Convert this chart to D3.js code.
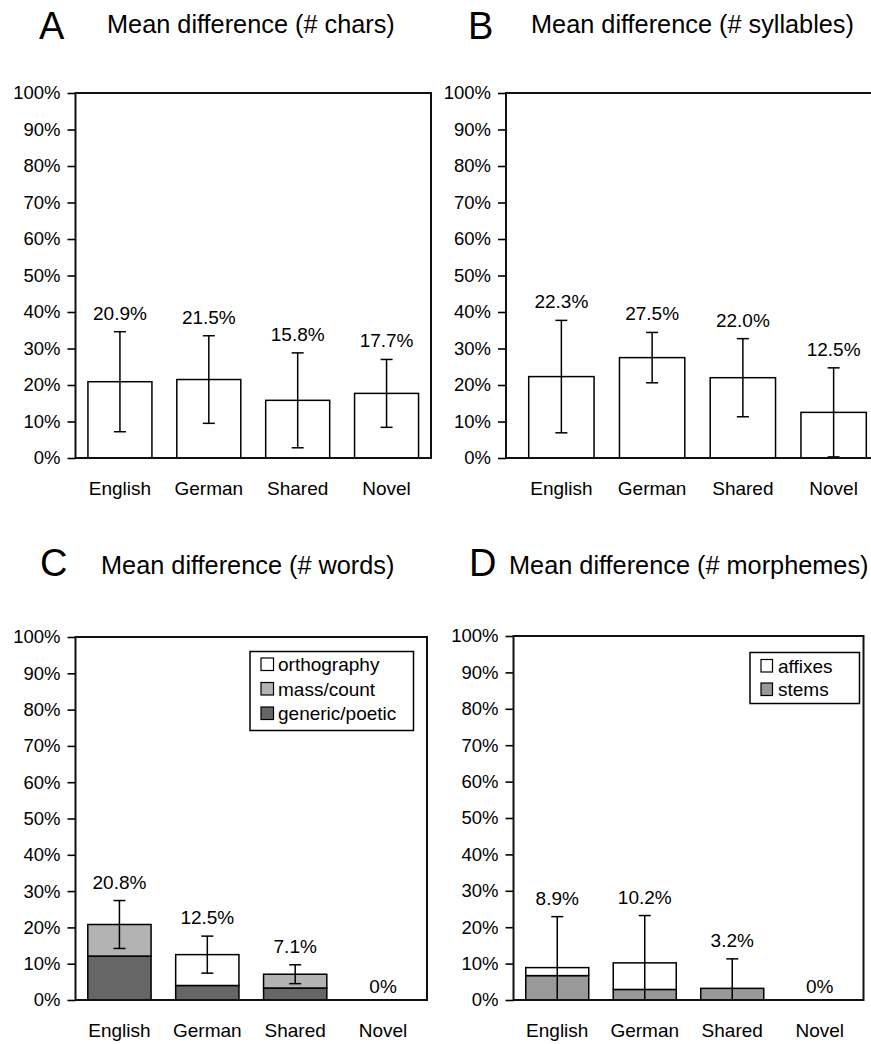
<!DOCTYPE html>
<html>
<head>
<meta charset="utf-8">
<script src="https://cdn.jsdelivr.net/npm/d3@7/dist/d3.min.js"></script>
<style>
  html, body { margin: 0; padding: 0; background: #fff; }
  svg { display: block; font-family: "Liberation Sans", Arial, sans-serif; }
</style>
</head>
<body>
<svg id="chart" width="871" height="1044"></svg>
<script>
// ---- data ----
const categories = ["English", "German", "Shared", "Novel"];
const yTicks = [0, 10, 20, 30, 40, 50, 60, 70, 80, 90, 100];

// A: mean difference in characters
const charsMean = [20.9, 21.5, 15.8, 17.7];
const charsErr  = [13.7, 12.0, 13.0, 9.3];

// B: mean difference in syllables
const syllMean = [22.3, 27.5, 22.0, 12.5];
const syllErr  = [15.4, 6.9, 10.7, 12.2];

// C: mean difference in words, split by source
const wordsGeneric = [12.1, 4.0, 3.3, 0];
const wordsMass    = [8.7, 0, 3.8, 0];
const wordsOrtho   = [0, 8.5, 0, 0];
const wordsErr     = [6.6, 5.1, 2.6, 0];
const wordsKeys    = ["generic/poetic", "mass/count", "orthography"];

// D: mean difference in morphemes, split by source
const morphStems   = [6.7, 2.9, 3.2, 0];
const morphAffixes = [2.2, 7.3, 0, 0];
const morphErr     = [14.0, 13.0, 8.1, 0];
const morphKeys    = ["stems", "affixes"];

const fills = {
  "plain": "#ffffff",
  "generic/poetic": "#666666",
  "mass/count": "#b3b3b3",
  "orthography": "#ffffff",
  "stems": "#999999",
  "affixes": "#ffffff"
};

const svg = d3.select("#chart");
const fmt = v => v === 0 ? "0%" : v.toFixed(1) + "%";

// panel frames
const panels = [
  { letter: "A", title: "Mean difference (# chars)",
    left: 75.5, right: 431, top: 93, bottom: 458, band: [75.5, 431],
    letterX: 39, letterY: 39, titleX: 107, titleY: 33 },
  { letter: "B", title: "Mean difference (# syllables)",
    left: 506, right: 890, top: 93, bottom: 458, band: [516, 879],
    letterX: 468, letterY: 39, titleX: 531, titleY: 33 },
  { letter: "C", title: "Mean difference (# words)",
    left: 75.5, right: 427, top: 637, bottom: 1000, band: [75.5, 427],
    letterX: 40, letterY: 576, titleX: 101, titleY: 574 },
  { letter: "D", title: "Mean difference (# morphemes)",
    left: 513.5, right: 863.5, top: 636, bottom: 1000, band: [513.5, 863.5],
    letterX: 469, letterY: 576, titleX: 509, titleY: 574 }
];

function buildRows(keys, cols) {
  return categories.map((c, i) => {
    const row = { cat: c };
    keys.forEach((k, j) => row[k] = cols[j][i]);
    return row;
  });
}

const specs = [
  { rows: buildRows(["plain"], [charsMean]), keys: ["plain"], err: charsErr },
  { rows: buildRows(["plain"], [syllMean]), keys: ["plain"], err: syllErr },
  { rows: buildRows(wordsKeys, [wordsGeneric, wordsMass, wordsOrtho]), keys: wordsKeys, err: wordsErr,
    legend: { x: 250, y: 651.5, w: 163.5, h: 79, items: ["orthography", "mass/count", "generic/poetic"],
              first: 671, step: 24.5, sw: 12.5, textX: 278 } },
  { rows: buildRows(morphKeys, [morphStems, morphAffixes]), keys: morphKeys, err: morphErr,
    legend: { x: 750, y: 652.5, w: 109.5, h: 51, items: ["affixes", "stems"],
              first: 672.5, step: 23.5, sw: 11.5, textX: 778 } }
];

panels.forEach((p, pi) => {
  const spec = specs[pi];
  const g = svg.append("g");

  const x = d3.scaleBand().domain(categories).range(p.band)
    .paddingInner(0.28).paddingOuter(0.14);
  const y = d3.scaleLinear().domain([0, 100]).range([p.bottom, p.top]);

  // titles
  g.append("text").attr("x", p.letterX).attr("y", p.letterY)
    .attr("font-size", 38).attr("fill", "#000").text(p.letter);
  g.append("text").attr("x", p.titleX).attr("y", p.titleY)
    .attr("font-size", 25.3).attr("fill", "#000").text(p.title);

  // y axis
  const ax = g.append("g").attr("transform", `translate(${p.left},0)`)
    .call(d3.axisLeft(y).tickValues(yTicks).tickFormat(d => d + "%")
      .tickSize(8).tickSizeOuter(0).tickPadding(7));
  ax.select(".domain").remove();
  ax.selectAll(".tick line").attr("stroke", "#000").attr("stroke-width", 1.6);
  ax.selectAll(".tick text").attr("font-size", 18.5).attr("fill", "#000")
    .attr("font-family", "Liberation Sans, Arial, sans-serif");

  // stacked bars
  const stack = d3.stack().keys(spec.keys)(spec.rows);
  stack.forEach(layer => {
    g.append("g").selectAll("rect")
      .data(layer.filter(d => d[1] - d[0] > 0))
      .join("rect")
      .attr("x", d => x(d.data.cat))
      .attr("width", x.bandwidth())
      .attr("y", d => y(d[1]))
      .attr("height", d => y(d[0]) - y(d[1]))
      .attr("fill", fills[layer.key])
      .attr("stroke", "#000").attr("stroke-width", 1.5);
  });

  const totals = spec.rows.map(r => d3.sum(spec.keys, k => r[k]));

  // error bars (clipped at the baseline)
  const eb = g.append("g").attr("stroke", "#000").attr("stroke-width", 1.5);
  categories.forEach((c, i) => {
    const e = spec.err[i];
    if (!(e > 0)) return;
    const cx = x(c) + x.bandwidth() / 2;
    const hi = totals[i] + e, lo = Math.max(0, totals[i] - e);
    eb.append("line").attr("x1", cx).attr("x2", cx).attr("y1", y(hi)).attr("y2", y(lo));
    eb.append("line").attr("x1", cx - 6).attr("x2", cx + 6).attr("y1", y(hi)).attr("y2", y(hi));
    if (totals[i] - e > 0)
      eb.append("line").attr("x1", cx - 6).attr("x2", cx + 6).attr("y1", y(lo)).attr("y2", y(lo));
  });

  // value labels
  categories.forEach((c, i) => {
    const e = spec.err[i];
    const topVal = totals[i] + (e > 0 ? e : 0);
    g.append("text")
      .attr("x", x(c) + x.bandwidth() / 2)
      .attr("y", y(topVal) - (e > 0 ? 12 : 7))
      .attr("text-anchor", "middle").attr("font-size", 19).attr("fill", "#000")
      .text(fmt(totals[i]));
  });

  // category labels
  categories.forEach(c => {
    g.append("text")
      .attr("x", x(c) + x.bandwidth() / 2).attr("y", p.bottom + 36.5)
      .attr("text-anchor", "middle").attr("font-size", 19).attr("fill", "#000")
      .text(c);
  });

  // plot frame
  g.append("rect").attr("x", p.left).attr("y", p.top)
    .attr("width", p.right - p.left).attr("height", p.bottom - p.top)
    .attr("fill", "none").attr("stroke", "#111").attr("stroke-width", 2);

  // legend
  if (spec.legend) {
    const L = spec.legend;
    const lg = g.append("g");
    lg.append("rect").attr("x", L.x).attr("y", L.y).attr("width", L.w).attr("height", L.h)
      .attr("fill", "#fff").attr("stroke", "#000").attr("stroke-width", 1.5);
    L.items.forEach((k, j) => {
      const by = L.first + j * L.step;
      lg.append("rect").attr("x", L.x + 11).attr("y", by - 13).attr("width", L.sw).attr("height", 12.5)
        .attr("fill", fills[k]).attr("stroke", "#000").attr("stroke-width", 1.2);
      lg.append("text").attr("x", L.textX).attr("y", by)
        .attr("font-size", 19).attr("fill", "#000").text(k);
    });
  }
});
</script>
</body>
</html>
